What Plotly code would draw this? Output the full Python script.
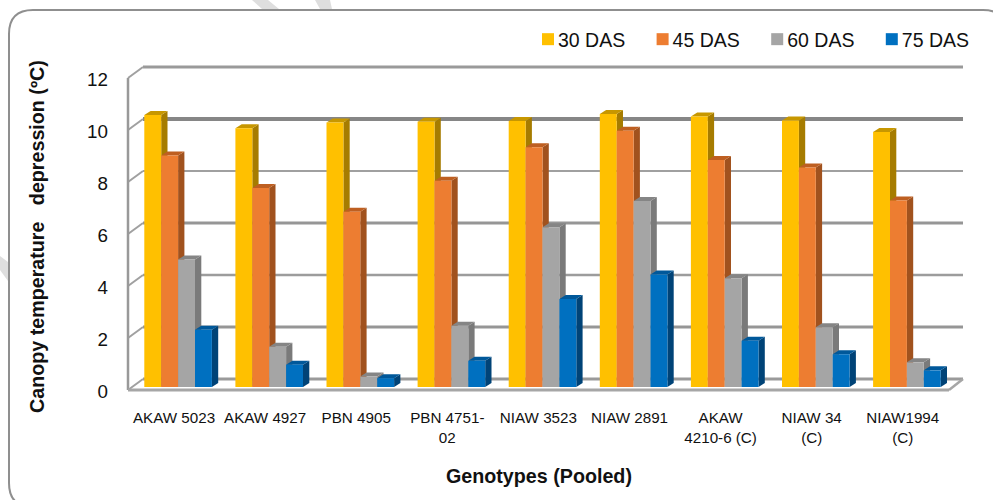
import plotly.graph_objects as go

genotypes = ["AKAW 5023", "AKAW 4927", "PBN 4905", "PBN 4751-<br>02", "NIAW 3523",
             "NIAW 2891", "AKAW<br>4210-6 (C)", "NIAW 34<br>(C)", "NIAW1994<br>(C)"]
das_30 = [10.46, 9.95, 10.17, 10.20, 10.23, 10.50, 10.40, 10.25, 9.81]
das_45 = [8.90, 7.65, 6.74, 7.93, 9.22, 9.86, 8.73, 8.44, 7.17]
das_60 = [4.90, 1.55, 0.40, 2.36, 6.14, 7.15, 4.18, 2.30, 0.95]
das_75 = [2.20, 0.86, 0.34, 1.01, 3.38, 4.33, 1.78, 1.26, 0.64]
y_ticks = [0, 2, 4, 6, 8, 10, 12]

series = [
    ("30 DAS", das_30, "#FFC000", "#C79700", "#A67C00"),
    ("45 DAS", das_45, "#ED7D31", "#BE5F21", "#A1521E"),
    ("60 DAS", das_60, "#A5A5A5", "#858585", "#7A7A7A"),
    ("75 DAS", das_75, "#0070C0", "#00589A", "#004377"),
]

W, H = 993, 500
L, R, T, B = 124, 970, 60, 394
X0PX, XSTEP = 178.1, 91.1
Y0PX, YSTEP = 387.0, 26.0


def ux(px):
    return (px - X0PX) / XSTEP


def uy(px):
    return (Y0PX - px) / YSTEP


def px_paper(x):
    return (x - L) / (R - L)


def py_paper(y):
    return (B - y) / (B - T)


x_range = [ux(L), ux(R)]
y_range = [uy(B), uy(T)]
front_off = uy(390)
back_off = uy(379)
label_off = uy(391.5)
x_fl, x_bl, x_fr, x_br = ux(128), ux(143), ux(949), ux(963)
dx, dy = 6.3 / XSTEP, 4.0 / YSTEP
bargap = 0.258
bw = (1 - bargap) / 4
grid_widths = {0: 3, 2: 3, 4: 2.5, 6: 3, 8: 2, 10: 4, 12: 3}
grid_cols = {0: "#9A9A9A", 2: "#969696", 4: "#9C9C9C", 6: "#969696", 8: "#A0A0A0", 10: "#868686", 12: "#9A9A9A"}

shapes = []


def poly(pts, color):
    path = "M" + " L".join(f"{a},{b}" for a, b in pts) + " Z"
    shapes.append(dict(type="path", path=path, xref="x", yref="y", fillcolor=color,
                       line=dict(width=0), layer="below"))


def seg(x0, y0, x1, y1, color, width):
    shapes.append(dict(type="line", x0=x0, y0=y0, x1=x1, y1=y1, xref="x", yref="y",
                       line=dict(color=color, width=width), layer="below"))


# back wall gridlines and left wall diagonals
for t in y_ticks:
    seg(x_bl, t + back_off, x_br, t + back_off, grid_cols[t], grid_widths[t])
    seg(x_fl, t + front_off, x_bl, t + back_off, "#A0A0A0", 2)
# left wall edge, floor
seg(x_fl, front_off, x_fl, 12 + front_off, "#999999", 2.5)
seg(x_fl, front_off, x_fr, front_off, "#A6A6A6", 3)
seg(x_fr, front_off, x_br, back_off, "#A6A6A6", 2.5)

# bar extrusions, drawn from the same values as the bars
for i in range(len(genotypes)):
    for j, (_, vals, _, top, side) in enumerate(series):
        v = vals[i]
        a = i + (j - 2) * bw
        b = a + bw
        poly([(b, 0), (b + dx, dy), (b + dx, v + dy), (b, v)], side)
        poly([(a, v), (b, v), (b + dx, v + dy), (a + dx, v + dy)], top)

# outer rounded frame and faint background stripes, in paper coordinates
fx0, fy0, fx1, fy1, r = 9, 10, 1007, 507, 24
pts = lambda x, y: f"{px_paper(x)},{py_paper(y)}"
frame = ("M" + pts(fx0 + r, fy0) + " L" + pts(fx1 - r, fy0) + " Q" + pts(fx1, fy0) + " " + pts(fx1, fy0 + r)
         + " L" + pts(fx1, fy1 - r) + " Q" + pts(fx1, fy1) + " " + pts(fx1 - r, fy1)
         + " L" + pts(fx0 + r, fy1) + " Q" + pts(fx0, fy1) + " " + pts(fx0, fy1 - r)
         + " L" + pts(fx0, fy0 + r) + " Q" + pts(fx0, fy0) + " " + pts(fx0 + r, fy0) + " Z")
for st in ([(252, 0), (268, 0), (279, 9), (262, 9)],
           [(315, 0), (330, 0), (332, 9), (320, 9)],
           [(0, 256), (8, 262), (8, 281), (0, 270)]):
    shapes.append(dict(type="path", xref="paper", yref="paper", layer="below",
                       path="M" + " L".join(pts(a, b) for a, b in st) + " Z",
                       fillcolor="#DEDEDE", line=dict(width=0)))
shapes.append(dict(type="path", xref="paper", yref="paper", layer="below", path=frame,
                   fillcolor="rgba(0,0,0,0)", line=dict(color="#8F8F8F", width=2)))

fig = go.Figure()
for name, vals, front, _, _ in series:
    fig.add_trace(go.Bar(name=name, x=list(range(len(genotypes))), y=vals,
                         marker=dict(color=front, line=dict(width=0))))

FONT = "Liberation Sans, Arial, sans-serif"
NB = "\u00a0"
title_font = dict(size=19.7, family=FONT, color="#111111")
fig.update_layout(
    width=W, height=H,
    margin=dict(l=L, r=W - R, t=T, b=H - B, pad=0),
    paper_bgcolor="white", plot_bgcolor="rgba(0,0,0,0)",
    barmode="group", bargap=bargap, bargroupgap=0,
    shapes=shapes,
    font=dict(family=FONT, color="#111111"),
    showlegend=True,
    legend=dict(orientation="h", x=px_paper(518), xanchor="left", y=py_paper(20), yanchor="top",
                font=dict(size=19.5, family=FONT, color="#111111"),
                entrywidthmode="pixels", entrywidth=69.6, tracegroupgap=0,
                bgcolor="rgba(0,0,0,0)", traceorder="normal"),
    xaxis=dict(range=x_range, showgrid=False, zeroline=False, showline=False, ticks="",
               tickmode="array", tickvals=[i + ux(174) - ux(178.1) for i in range(len(genotypes))],
               ticktext=genotypes, tickangle=0, ticklabelstandoff=13,
               tickfont=dict(size=15.2, family=FONT, color="#111111")),
    yaxis=dict(range=y_range, showgrid=False, zeroline=False, showline=False, ticks="",
               tickmode="array", tickvals=[t + label_off for t in y_ticks],
               ticktext=[str(t) for t in y_ticks], ticklabelstandoff=15,
               tickfont=dict(size=18.8, family=FONT, color="#111111")),
    annotations=[
        dict(text="<b>Genotypes (Pooled)</b>", xref="paper", yref="paper",
             x=px_paper(538.5), y=py_paper(476), xanchor="center", yanchor="middle",
             showarrow=False, font=title_font),
        dict(text="<b>Canopy temperature" + NB * 3 + "depression (ºC)</b>", xref="paper", yref="paper",
             x=px_paper(37), y=py_paper(237), xanchor="center", yanchor="middle",
             textangle=-90, showarrow=False, font=title_font),
    ],
)

post = """document.documentElement.style.overflow='hidden';document.body.style.margin='0';
document.querySelectorAll('.legend .legendsymbols').forEach(function(e){e.setAttribute('transform','translate(10,0)');});"""
fig.write_html("out.html", post_script=post, config=dict(displayModeBar=False))
